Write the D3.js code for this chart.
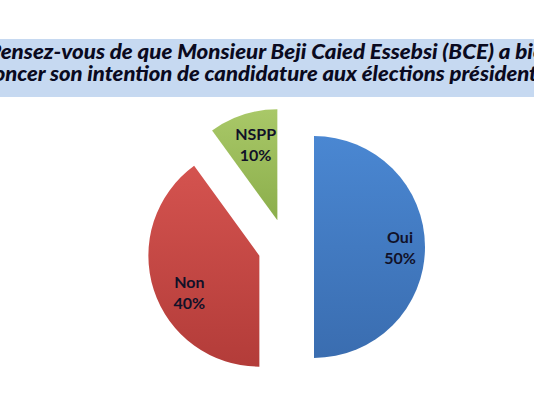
<!DOCTYPE html>
<html>
<head>
<meta charset="utf-8">
<script src="https://d3js.org/d3.v7.min.js"></script>
<style>
  body { margin: 0; background: #fff; }
  svg { display: block; }
</style>
</head>
<body>
<svg width="534" height="400"></svg>
<script>
// data
var categories = ["Oui", "Non", "NSPP"];
var values = [50, 40, 10];
var titleLines = [
  "Pensez-vous de que Monsieur Beji Caied Essebsi (BCE) a bien",
  "annoncer son intention de candidature aux élections présidentielles"
];

var svg = d3.select("svg");
var cx = 286, cy = 247, R = 111, explode = 28;
// label distance from slice tip, and small nudges like the original layout
var labelR = [86, 82, 80];
var labelNudge = [[0, 0], [8, 11], [3, 0]];

var colors = d3.scaleOrdinal()
  .domain(categories)
  .range([["#4a87d2", "#3a6db0"], ["#d4534f", "#b33c39"], ["#a9c868", "#8bae4b"]]);

// gradients
var defs = svg.append("defs");
categories.forEach(function(c, i) {
  var g = defs.append("linearGradient")
    .attr("id", "grad" + i)
    .attr("x1", 0).attr("y1", 0).attr("x2", 0).attr("y2", 1);
  g.append("stop").attr("offset", "0%").attr("stop-color", colors(c)[0]);
  g.append("stop").attr("offset", "100%").attr("stop-color", colors(c)[1]);
});

// title band
svg.append("rect")
  .attr("x", 0).attr("y", 39)
  .attr("width", 534).attr("height", 58)
  .attr("fill", "#c6d9f1");

// the title is wider than the picture, as in the original
var titleX = [[-12, 568], [-42, 626]];
svg.selectAll(".title")
  .data(titleLines)
  .enter()
  .append("text")
  .attr("class", "title")
  .attr("x", function(d, i) { return titleX[i][0]; })
  .attr("y", function(d, i) { return 59 + i * 22; })
  .attr("textLength", function(d, i) { return titleX[i][1]; })
  .attr("lengthAdjust", "spacingAndGlyphs")
  .attr("font-family", "Lato, 'Open Sans', sans-serif")
  .attr("font-weight", 900)
  .attr("font-style", "italic")
  .attr("font-size", 20)
  .attr("fill", "#0a0a20")
  .text(function(d) { return d; });

// pie
var pie = d3.pie().sort(null).value(function(d) { return d; });
var arcs = pie(values);
var arc = d3.arc().innerRadius(0).outerRadius(R);

var slices = svg.selectAll(".slice")
  .data(arcs)
  .enter()
  .append("g")
  .attr("class", "slice")
  .attr("transform", function(d) {
    var a = (d.startAngle + d.endAngle) / 2;
    return "translate(" + (cx + explode * Math.sin(a)) + "," + (cy - explode * Math.cos(a)) + ")";
  });

slices.append("path")
  .attr("d", arc)
  .attr("fill", function(d, i) { return "url(#grad" + i + ")"; });

var labels = slices.append("text")
  .attr("text-anchor", "middle")
  .attr("font-family", "Lato, 'Open Sans', sans-serif")
  .attr("font-weight", "bold")
  .attr("font-size", 16)
  .attr("fill", "#111128")
  .attr("transform", function(d, i) {
    var a = (d.startAngle + d.endAngle) / 2;
    return "translate(" + (labelR[i] * Math.sin(a) + labelNudge[i][0]) + "," +
      (-labelR[i] * Math.cos(a) + labelNudge[i][1]) + ")";
  });

labels.append("tspan")
  .attr("x", 0).attr("dy", -4)
  .text(function(d, i) { return categories[i]; });
labels.append("tspan")
  .attr("x", 0).attr("dy", 21)
  .text(function(d) { return d.value + "%"; });
</script>
</body>
</html>
